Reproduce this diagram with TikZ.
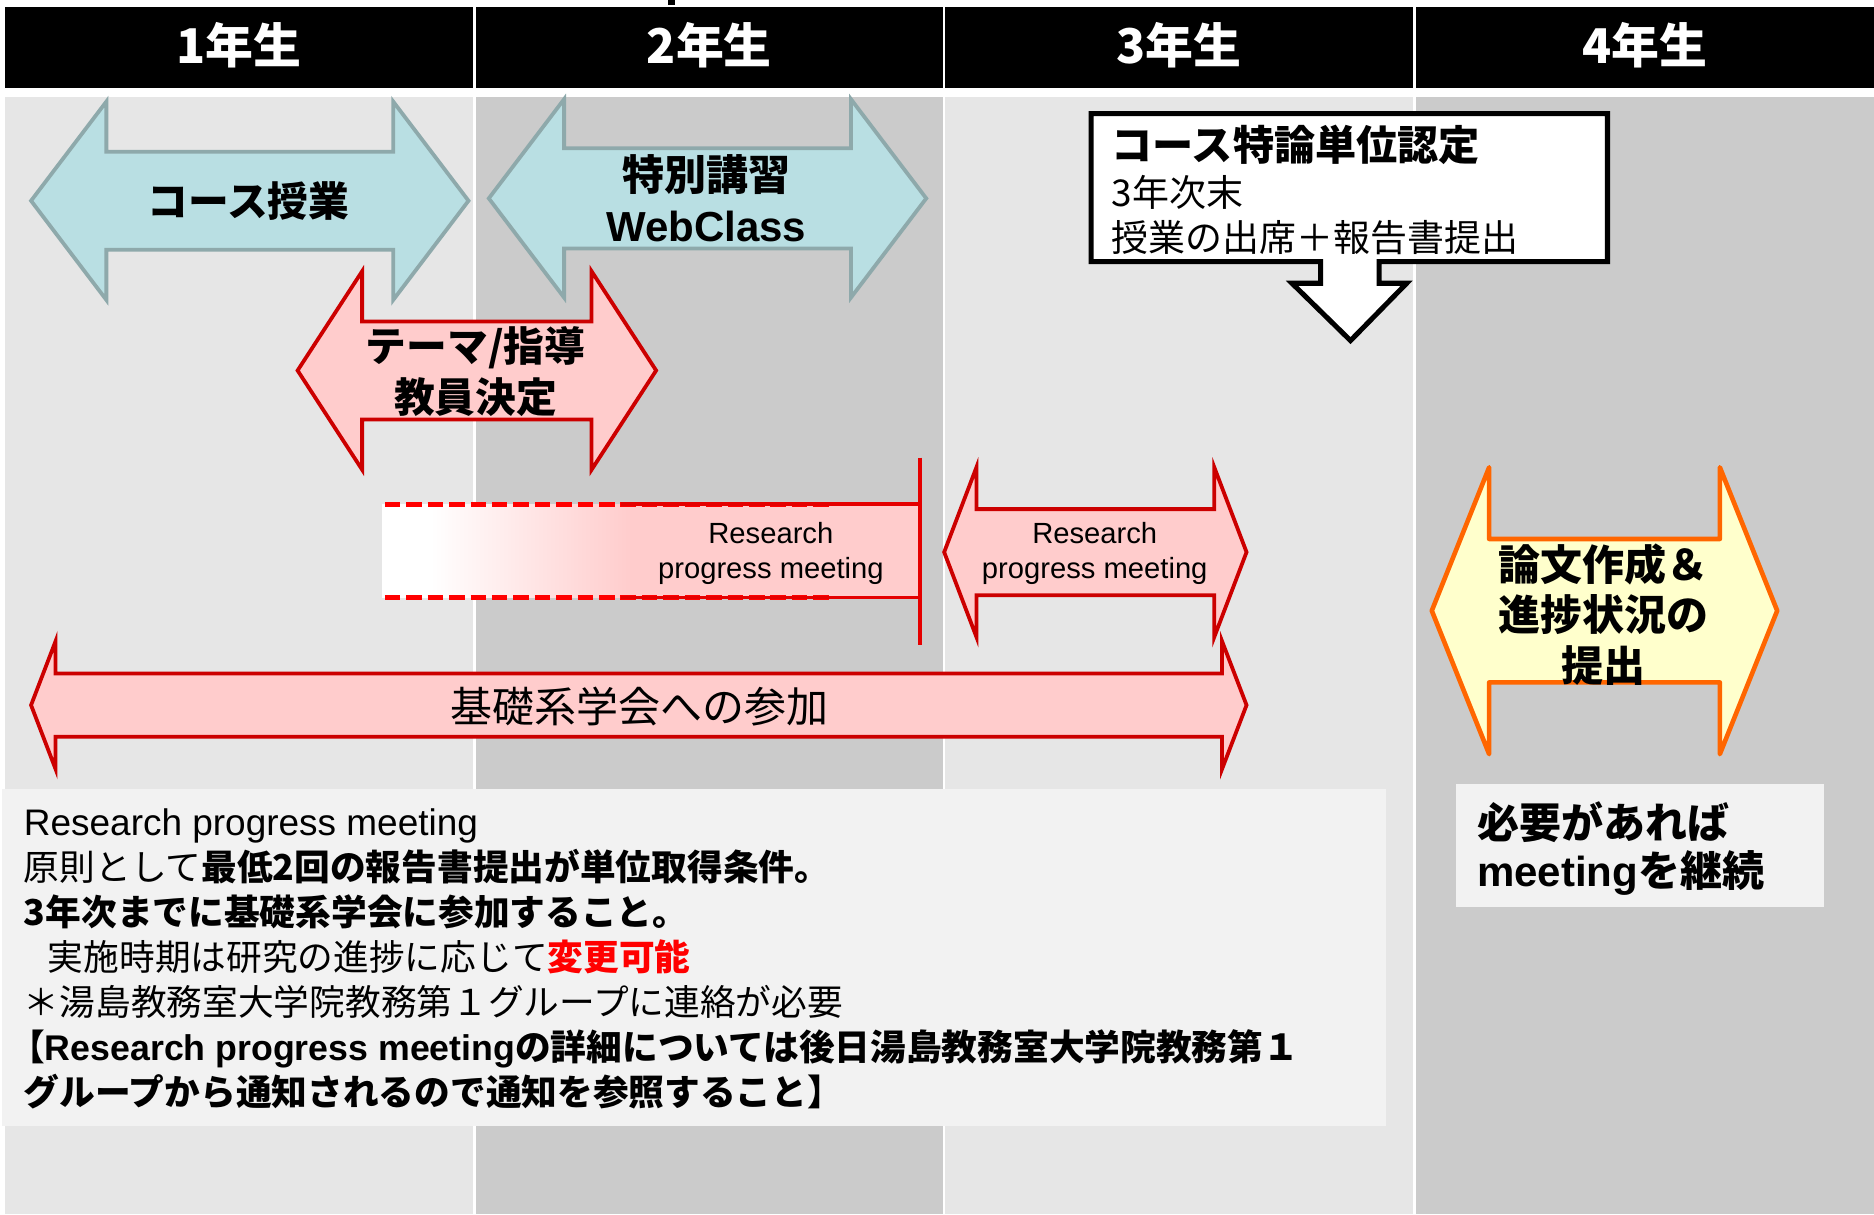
\documentclass[tikz,border=0pt]{standalone}
\usepackage{fontspec}
\setmainfont{Noto Sans CJK JP}
\newfontfamily\arial{Liberation Sans}

\definecolor{lgray}{HTML}{E6E6E6}
\definecolor{dgray}{HTML}{CBCBCB}
\definecolor{notegray}{HTML}{F2F2F2}
\definecolor{bluefill}{HTML}{B9DFE3}
\definecolor{blueline}{HTML}{8EA9AB}
\definecolor{pinkfill}{HTML}{FFCCCC}
\definecolor{redline}{HTML}{CC0000}
\definecolor{brightred}{HTML}{FF0000}
\definecolor{yellowfill}{HTML}{FFFFCC}
\definecolor{orangeline}{HTML}{FF6600}

% double arrow: style, cx, cy, half length, head length, half shaft, half head
\newcommand{\dblarrow}[7]{%
  \draw[#1] ({#2-#4},#3) -- ({#2-#4+#5},{#3-#7}) -- ({#2-#4+#5},{#3-#6})
    -- ({#2+#4-#5},{#3-#6}) -- ({#2+#4-#5},{#3-#7}) -- ({#2+#4},#3)
    -- ({#2+#4-#5},{#3+#7}) -- ({#2+#4-#5},{#3+#6}) -- ({#2-#4+#5},{#3+#6})
    -- ({#2-#4+#5},{#3+#7}) -- cycle;}

\begin{document}
\begin{tikzpicture}[x=0.1mm,y=-0.1mm,semithick]
  \tikzstyle{year}=[text=white,inner sep=0pt,font=\fontsize{11.4}{12}\selectfont\bfseries]
  \tikzstyle{bluearrow}=[fill=bluefill,draw=blueline,line width=0.9pt]
  \tikzstyle{pinkarrow}=[fill=pinkfill,draw=redline,line width=0.9pt]
  \tikzstyle{orangearrow}=[fill=yellowfill,draw=orangeline,line width=1.1pt,line join=round]
  \tikzstyle{label}=[inner sep=0pt,align=center,font=\fontsize{10}{12}\selectfont\bfseries]
  \tikzstyle{small}=[inner sep=0pt,align=center,font=\arial\fontsize{6.95}{8.5}\selectfont]

  \useasboundingbox (0,0) rectangle (1568,1016);
  \fill[white] (0,0) rectangle (1568,1016);
  \fill[black] (559,0) rectangle (565,4);

  % year columns
  \foreach \n/\xa/\xb/\c in {1/4/396/lgray,2/398/789/dgray,3/791/1182/lgray,4/1185/1568/dgray}{
    \fill[black] (\xa,6) rectangle (\xb,74);
    \fill[\c] (\xa,81) rectangle (\xb,1016);
    \node[year] (Y\n) at ({(\xa+\xb)/2},38) {{\n}年生};
  }

  % course arrows
  \dblarrow{bluearrow}{209}{168}{183}{63}{41}{83}
  \node[label,font=\fontsize{9.7}{12}\selectfont\bfseries] (kougi) at (208,168) {コース授業};
  \dblarrow{bluearrow}{592}{166}{183}{63}{42}{83}
  \node[label] (tokubetsu) at (591,166) {特別講習\\{\arial WebClass}};
  \dblarrow{pinkarrow}{399}{310}{150}{54}{41}{83}
  \node[label,font=\fontsize{9.7}{12}\selectfont\bfseries] (theme) at (398,311) {テーマ/指導\\教員決定};

  % credit callout
  \draw[fill=white,draw=black,line width=1.2pt] (913,95) -- (1345,95) -- (1345,219)
    -- (1154,219) -- (1154,237) -- (1177,237) -- (1130,285) -- (1081,237)
    -- (1105,237) -- (1105,219) -- (913,219) -- cycle;
  \node[inner sep=0pt,anchor=north west,align=left,font=\fontsize{8.8}{10.8}\selectfont]
    (tanni) at (929,104) {{\fontsize{9.8}{10.8}\selectfont\bfseries コース特論単位認定}\\3年次末\\授業の出席＋報告書提出};

  % research progress meetings
  \fill[white] (320,422) rectangle (361,500);
  \shade[left color=white,right color=pinkfill] (360,422) rectangle (528,500);
  \fill[pinkfill] (527,422) rectangle (770,500);
  \draw[brightred,line width=1.1pt,dash pattern=on 3.7pt off 1.4pt] (322,422) -- (698,422);
  \draw[brightred,line width=1.1pt,dash pattern=on 3.7pt off 1.4pt] (322,500) -- (698,500);
  \draw[brightred!90!black,line width=0.9pt] (520,422) -- (770,422) (520,500) -- (770,500);
  \draw[brightred!90!black,line width=0.9pt] (770,383) -- (770,540);
  \node[small] (rpm1) at (645,463) {Research\\progress meeting};
  \dblarrow{pinkarrow}{916.5}{462}{126.5}{27}{36}{71}
  \node[small] (rpm2) at (916,463) {Research\\progress meeting};

  \dblarrow{pinkarrow}{534.5}{590}{508.5}{20.5}{26.5}{53.5}
  \node[label,font=\fontsize{10}{12}\selectfont] (gakkai) at (535,591) {基礎系学会への参加};

  % 4th year
  \dblarrow{orangearrow}{1342.5}{511}{144.5}{48}{60}{120}
  \node[label] (ronbun) at (1342,514) {論文作成＆\\進捗状況の\\提出};
  \fill[notegray] (1218,656) rectangle (1526,759);
  \node[inner sep=0pt,anchor=west,align=left,font=\fontsize{10}{11.4}\selectfont\bfseries]
    (keizoku) at (1235,710) {必要があれば\\{\arial meeting}を継続};

  % notes
  \fill[notegray] (2,660) rectangle (1160,942);
  \node[inner sep=0pt,anchor=north west,align=left,font=\fontsize{8.5}{10.7}\selectfont]
    (notes) at (19,676) {{\arial\fontsize{8.8}{10.7}\selectfont Research progress meeting}\\
    原則として\textbf{最低2回の報告書提出が単位取得条件。}\\
    \textbf{3年次までに基礎系学会に参加すること。}\\
    \hspace*{5.7pt}実施時期は研究の進捗に応じて\textbf{\textcolor{brightred}{変更可能}}\\
    ＊湯島教務室大学院教務第１グループに連絡が必要\\
    \hspace*{-3.5pt}\textbf{【{\arial Research progress meeting}の詳細については後日湯島教務室大学院教務第１}\\
    \textbf{グループから通知されるので通知を参照すること】}};
\end{tikzpicture}
\end{document}
